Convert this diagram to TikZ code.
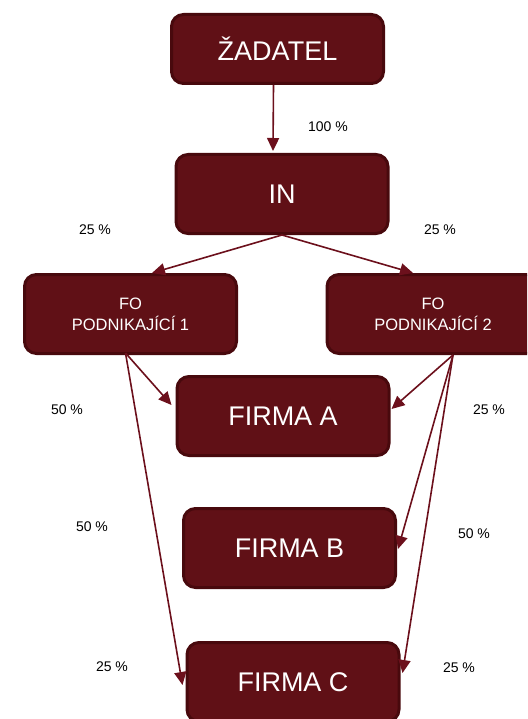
\documentclass[tikz,border=0pt]{standalone}
\usepackage{fontspec}
\setmainfont{Liberation Sans}
\usetikzlibrary{arrows.meta}

\definecolor{boxfill}{RGB}{96,16,22}
\definecolor{boxline}{RGB}{72,9,13}
\definecolor{arrowcol}{RGB}{108,16,28}

\tikzset{
  box/.style={draw=boxline, fill=boxfill, line width=3pt, rounded corners=12pt,
    text=white, align=center, minimum width=212pt, minimum height=79pt, inner sep=0pt},
  bigtext/.style={font=\fontsize{27}{30}\selectfont},
  smalltext/.style={font=\fontsize{16.5}{21}\selectfont},
  pct/.style={font=\fontsize{14}{16}\selectfont, text=black},
  link/.style={draw=arrowcol, line width=1.6pt, -{Triangle[length=13pt,width=12pt]}}
}

\begin{document}
\begin{tikzpicture}[x=1pt,y=-1pt]
   % Cadre de l'image
   \clip (0,0) rectangle (527,719);

   % Boites
   \node[box, bigtext, minimum height=69pt] (zadatel) at (277.5,49) {ŽADATEL};
   \node[box, bigtext] (in) at (282,194) {IN};
   \node[box, smalltext] (fo1) at (130.5,314) {FO\\PODNIKAJÍCÍ 1};
   \node[box, smalltext] (fo2) at (433,314) {FO\\PODNIKAJÍCÍ 2};
   \node[box, bigtext] (firmaA) at (283,416) {FIRMA A};
   \node[box, bigtext] (firmaB) at (289.5,548) {FIRMA B};
   \node[box, bigtext] (firmaC) at (293,682) {FIRMA C};

   % Fleches
   \draw[link] ([xshift=-4pt]zadatel.south) -- ([xshift=-9pt,yshift=2pt]in.north);
   \draw[link] (in.south) -- ([xshift=21.5pt]fo1.north);
   \draw[link] (in.south) -- ([xshift=-20pt]fo2.north);
   \draw[link] ([xshift=-5pt,yshift=2pt]fo1.south) -- ([xshift=-4pt,yshift=11pt]firmaA.west);
   \draw[link] ([xshift=-5pt,yshift=2pt]fo1.south) -- ([xshift=-3pt,yshift=-3pt]firmaC.west);
   \draw[link] ([xshift=20pt]fo2.south) -- ([xshift=1pt,yshift=7pt]firmaA.east);
   \draw[link] ([xshift=20pt]fo2.south) -- ([xshift=1pt,yshift=-1pt]firmaB.east);
   \draw[link] ([xshift=20pt]fo2.south) -- ([xshift=2pt,yshift=9pt]firmaC.east);

   % Pourcentages
   \node[pct] (p1) at (328,127) {100 \%};
   \node[pct] (p2) at (95,230) {25 \%};
   \node[pct] (p3) at (440,230) {25 \%};
   \node[pct] (p4) at (67,410) {50 \%};
   \node[pct] (p5) at (92,527) {50 \%};
   \node[pct] (p6) at (112,667) {25 \%};
   \node[pct] (p7) at (489,410) {25 \%};
   \node[pct] (p8) at (474,534) {50 \%};
   \node[pct] (p9) at (459,668) {25 \%};
\end{tikzpicture}
\end{document}
